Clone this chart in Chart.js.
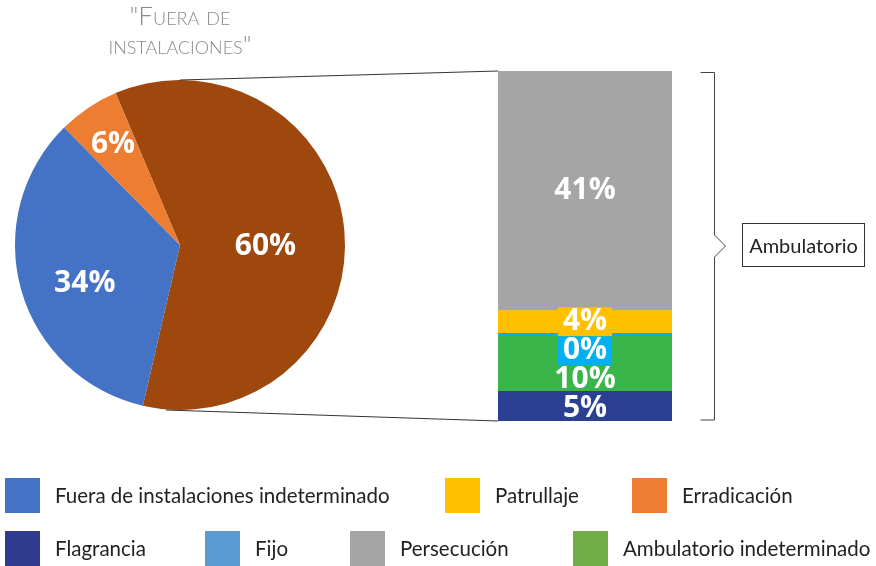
<!DOCTYPE html>
<html>
<head>
<meta charset="utf-8">
<script src="https://cdn.jsdelivr.net/npm/chart.js@4.4.0/dist/chart.umd.min.js"></script>
<style>
  body { margin: 0; background: #fff; }
  #wrap { position: relative; width: 876px; height: 566px; overflow: hidden; font-family: Lato, "Open Sans", sans-serif; }
  #wrap canvas { position: absolute; left: 0; top: 0; }
  #title { position: absolute; left: 40px; width: 280px; top: 1px; text-align: center; font-variant: small-caps; font-weight: 300; font-size: 26px; line-height: 29px; color: #8a8a8a; }
  #ambBox { position: absolute; left: 742px; top: 223px; width: 121px; height: 42px; border: 1px solid #333; font-size: 20px; line-height: 42px; text-align: center; color: #222; }
  .leg-sw { position: absolute; width: 35px; height: 35px; }
  .leg-tx { position: absolute; font-size: 20.5px; line-height: 35px; color: #222; white-space: nowrap; }
</style>
</head>
<body>
<div id="wrap">
  <canvas id="pieChart" width="876" height="566"></canvas>
  <canvas id="barChart" width="876" height="566"></canvas>
  <div id="title">"Fuera de<br>instalaciones"</div>
  <div id="ambBox">Ambulatorio</div>
</div>
<script>
// pie: share of each place type
var pieCategories = ["Ambulatorio", "Fuera de instalaciones indeterminado", "Erradicación"];
var pieValues = [60, 34, 6];
var pieColors = ['#9e480e', '#4472c4', '#ed7d31'];

// bar: breakdown of "Ambulatorio" (bottom to top)
var barCategories = ["Flagrancia", "Ambulatorio indeterminado", "Fijo", "Patrullaje", "Persecución"];
var barValues = [5.1, 9.5, 0.45, 3.9, 41.05];
var barColors = ['#2b3f93', '#39b54a', '#00b0f0', '#ffc000', '#a5a5a5'];

// legend
var legendNames = ["Fuera de instalaciones indeterminado", "Patrullaje", "Erradicación",
                   "Flagrancia", "Fijo", "Persecución", "Ambulatorio indeterminado"];
var legendColors = ['#4472c4', '#ffc000', '#ed7d31', '#2e3b8f', '#5b9bd5', '#a5a5a5', '#70ad47'];

var legendPos = [[5, 478], [445, 478], [632, 478], [5, 531], [205, 531], [350, 531], [573, 531]];
legendNames.forEach(function (name, i) {
  var sw = document.createElement('div');
  sw.className = 'leg-sw';
  sw.style.left = legendPos[i][0] + 'px';
  sw.style.top = legendPos[i][1] + 'px';
  sw.style.background = legendColors[i];
  var tx = document.createElement('div');
  tx.className = 'leg-tx';
  tx.style.left = (legendPos[i][0] + 50) + 'px';
  tx.style.top = legendPos[i][1] + 'px';
  tx.textContent = name;
  document.getElementById('wrap').appendChild(sw);
  document.getElementById('wrap').appendChild(tx);
});

var labelFont = 'bold 30px "Open Sans", Lato, sans-serif';

// label spots inside the pie (fraction of radius, vertical nudge)
var pieLabelR = [0.52, 0.6, 0.73];
var pieLabelDy = [9, 11, 0];

var pieLabels = {
  id: 'pieLabels',
  afterDatasetsDraw: function (chart) {
    var ctx = chart.ctx;
    ctx.save();
    ctx.font = labelFont;
    ctx.fillStyle = '#fff';
    ctx.textAlign = 'center';
    ctx.textBaseline = 'middle';
    chart.getDatasetMeta(0).data.forEach(function (arc, i) {
      var mid = (arc.startAngle + arc.endAngle) / 2;
      var r = arc.outerRadius * pieLabelR[i];
      ctx.fillText(pieValues[i] + '%', arc.x + Math.cos(mid) * r, arc.y + Math.sin(mid) * r + pieLabelDy[i]);
    });
    ctx.restore();
  }
};

var pieChart = new Chart(document.getElementById('pieChart'), {
  type: 'pie',
  data: {
    labels: pieCategories,
    datasets: [{ data: pieValues, backgroundColor: pieColors, borderWidth: 0 }]
  },
  options: {
    responsive: false,
    animation: false,
    rotation: -23,
    layout: { padding: { left: 15, right: 531, top: 80, bottom: 156 } },
    plugins: { legend: { display: false }, tooltip: { enabled: false } }
  },
  plugins: [pieLabels]
});

var barLabels = {
  id: 'barLabels',
  afterDatasetsDraw: function (chart) {
    var ctx = chart.ctx;
    var h = 29;
    var prevBottom = -Infinity;
    ctx.save();
    ctx.font = labelFont;
    ctx.textAlign = 'center';
    ctx.textBaseline = 'middle';
    // top to bottom, push labels down so they don't overlap
    for (var i = barValues.length - 1; i >= 0; i--) {
      var bar = chart.getDatasetMeta(i).data[0];
      var cy = (bar.y + bar.base) / 2;
      if (cy - h / 2 < prevBottom) cy = prevBottom + h / 2;
      var txt = Math.round(barValues[i]) + '%';
      if (Math.abs(bar.base - bar.y) < h) {
        var w = ctx.measureText(txt).width + 10;
        ctx.fillStyle = barColors[i];
        ctx.fillRect(bar.x - w / 2, cy - h / 2, w, h);
      }
      ctx.fillStyle = '#fff';
      ctx.fillText(txt, bar.x, cy);
      prevBottom = cy + h / 2;
    }
    ctx.restore();
  },
  afterDraw: function (chart) {
    // connector lines from the pie and the bracket on the right
    var ctx = chart.ctx;
    var arc = pieChart.getDatasetMeta(0).data[0];
    var first = chart.getDatasetMeta(0).data[0];
    var last = chart.getDatasetMeta(barValues.length - 1).data[0];
    var left = first.x - first.width / 2;
    var right = first.x + first.width / 2;
    var top = last.y, bottom = first.base;
    ctx.save();
    ctx.strokeStyle = '#333';
    ctx.lineWidth = 1;
    ctx.beginPath();
    ctx.moveTo(arc.x, arc.y - arc.outerRadius);
    ctx.lineTo(left, top);
    ctx.moveTo(arc.x - 14, arc.y + arc.outerRadius);
    ctx.lineTo(left, bottom);
    ctx.stroke();

    var bx = right + 42.5, midY = (top + bottom) / 2;
    ctx.strokeStyle = '#444';
    ctx.beginPath();
    ctx.moveTo(bx - 14, top + 1.5);
    ctx.lineTo(bx, top + 1.5);
    ctx.lineTo(bx, midY - 11);
    ctx.lineTo(bx + 11, midY);
    ctx.lineTo(bx, midY + 11);
    ctx.lineTo(bx, bottom - 1);
    ctx.lineTo(bx - 14, bottom - 1);
    ctx.stroke();
    ctx.restore();
  }
};

var barDatasets = barCategories.map(function (name, i) {
  return {
    label: name,
    data: [barValues[i]],
    backgroundColor: barColors[i],
    borderWidth: 0,
    barPercentage: 1,
    categoryPercentage: 1
  };
});

var barChart = new Chart(document.getElementById('barChart'), {
  type: 'bar',
  data: { labels: [''], datasets: barDatasets },
  options: {
    responsive: false,
    animation: false,
    layout: { padding: { left: 498, right: 204, top: 71, bottom: 145 } },
    scales: {
      x: { stacked: true, display: false },
      y: { stacked: true, display: false, min: 0, max: 60 }
    },
    plugins: { legend: { display: false }, tooltip: { enabled: false } }
  },
  plugins: [barLabels]
});
</script>
</body>
</html>
